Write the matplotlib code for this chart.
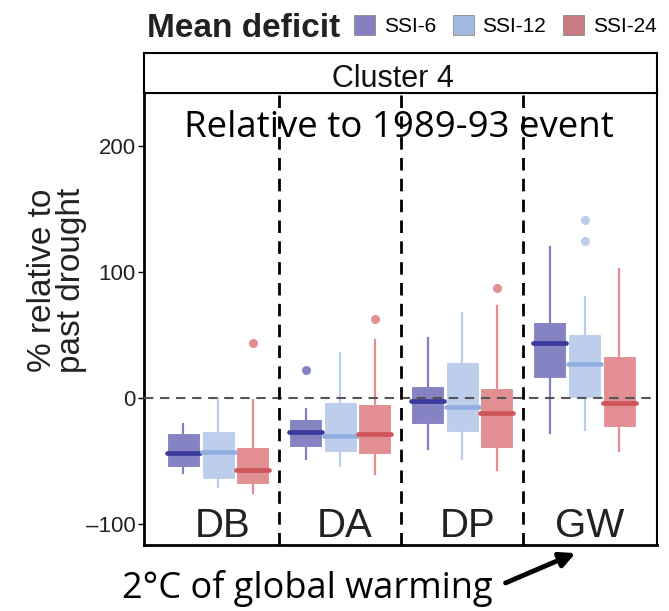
import matplotlib
matplotlib.use("Agg")
import matplotlib.pyplot as plt
from matplotlib.patches import Patch

categories = ["DB", "DA", "DP", "GW"]
series = ["SSI-6", "SSI-12", "SSI-24"]

# [whislo, q1, med, q3, whishi] per category
ssi6 = [[-59.5, -54.2, -43.1, -27.2, -20.4],
        [-48.2, -38.7, -27.0, -16.4, -8.2],
        [-40.5, -20.4, -2.1, 9.8, 47.6],
        [-27.8, 15.9, 43.6, 60.8, 120.3]]
ssi6_fliers = [[], [22.2], [], []]

ssi12 = [[-70.6, -63.8, -42.4, -26.0, 0.0],
         [-53.5, -42.4, -30.2, -2.9, 36.2],
         [-47.9, -26.7, -6.6, 28.6, 67.9],
         [-25.2, 0.5, 27.2, 51.0, 80.2]]
ssi12_fliers = [[], [], [], [125.1, 141.5]]

ssi24 = [[-75.4, -67.8, -56.9, -38.7, -1.3],
         [-60.1, -44.0, -28.1, -4.8, 46.0],
         [-56.9, -39.7, -11.4, 8.2, 73.3],
         [-42.1, -22.8, -3.5, 33.8, 102.6]]
ssi24_fliers = [[44.1], [63.2], [87.8], []]

yticks = [-100, 0, 100, 200]
ytick_labels = ["\u2013100", "0", "100", "200"]

box_colors = ["#8683c3", "#bdcdec", "#e28f94"]
med_colors = ["#3a3a9c", "#92aee0", "#cf575b"]
whisk_colors = ["#8280c2", "#b9cbee", "#e68c92"]
legend_colors = ["#847fbd", "#a3bbe2", "#c97b83"]

W, H = 669, 611
fig = plt.figure(figsize=(W / 100, H / 100), dpi=100)

ax_l, ax_r = 144 / W, 657 / W
ax_b, ax_t = 1 - 545 / H, 1 - 93 / H
ax = fig.add_axes([ax_l, ax_b, ax_r - ax_l, ax_t - ax_b])

offsets = [-0.283, 0.0, 0.283]
all_data = [(ssi6, ssi6_fliers), (ssi12, ssi12_fliers), (ssi24, ssi24_fliers)]

for s, (vals, fl) in enumerate(all_data):
    stats = []
    for i, v in enumerate(vals):
        stats.append(dict(whislo=v[0], q1=v[1], med=v[2], q3=v[3], whishi=v[4], fliers=fl[i]))
    pos = [i + 1 + offsets[s] for i in range(len(categories))]
    ax.bxp(stats, positions=pos, widths=0.27, patch_artist=True, showcaps=False,
           boxprops=dict(facecolor=box_colors[s], edgecolor="white", linewidth=0.8),
           medianprops=dict(color=med_colors[s], linewidth=3.4, solid_capstyle="round"),
           whiskerprops=dict(color=whisk_colors[s], linewidth=1.6),
           flierprops=dict(marker="o", markerfacecolor=box_colors[s], markeredgecolor="none",
                           markersize=6.5),
           manage_ticks=False, zorder=3)

ax.axhline(0, color="#555555", linestyle=(0, (4.5, 3.2)), linewidth=1.5, zorder=4)
for xv in [1.5, 2.5, 3.5]:
    ax.axvline(xv, color="black", linestyle=(0, (4.5, 3.0)), linewidth=2.0, zorder=4)

ax.set_xlim(0.394, 4.593)
ax.set_ylim(-116.4, 242.3)
ax.set_xticks([])
ax.set_yticks(yticks)
ax.set_yticklabels(ytick_labels, fontsize=16, color="#222222", family="Liberation Sans")
ax.tick_params(axis="y", length=4, width=1, pad=2)
for sp in ax.spines.values():
    sp.set_linewidth(1.5)
ax.spines["left"].set_linewidth(2)
ax.spines["bottom"].set_linewidth(2)

for i, c in enumerate(categories):
    ax.text(i + 1.04, -109.8, c, ha="center", va="baseline", fontsize=29,
            family="Liberation Sans", color="#222222", zorder=5)

ax.text(0.497, 0.9027, "Relative to 1989-93 event", transform=ax.transAxes, ha="center",
        va="baseline", fontsize=26.4, family="Open Sans", color="black", zorder=5)

ax.set_ylabel("% relative to\npast drought", fontsize=24, family="Liberation Sans",
              color="#222222", linespacing=0.9)
ax.yaxis.set_label_coords(-0.111, 0.586)

# strip
st_b, st_t = 1 - 93 / H, 1 - 52.7 / H
sax = fig.add_axes([ax_l, st_b, ax_r - ax_l, st_t - st_b])
sax.set_xticks([]); sax.set_yticks([])
for sp in sax.spines.values():
    sp.set_linewidth(1.5)
sax.text(393 / W, 1 - 86.7 / H, "Cluster 4", ha="center", va="baseline", fontsize=22,
         family="Liberation Sans", color="#111111", transform=fig.transFigure)

# legend
fig.text(147 / W, 1 - 37 / H, "Mean deficit", fontsize=24, fontweight="bold",
         family="Liberation Sans", color="#222222", va="baseline")
handles = [Patch(facecolor=legend_colors[k], edgecolor="#8a8a8a", linewidth=0.6) for k in range(3)]
fig.legend(handles, series, loc="center left", bbox_to_anchor=(354 / W, 1 - 25.5 / H), ncol=3,
           frameon=False, handlelength=1.0, handleheight=1.1, handletextpad=0.43,
           columnspacing=0.8, borderpad=0, borderaxespad=0,
           prop=dict(family="Liberation Sans", size=15))

# annotation
fig.text(122 / W, 1 - 598 / H, "2\u00b0C of global warming", fontsize=26, family="Open Sans",
         color="black", va="baseline")
ax.annotate("", xy=(578 / W, 1 - 552 / H), xytext=(503 / W, 1 - 584 / H),
            xycoords="figure fraction", textcoords="figure fraction",
            arrowprops=dict(arrowstyle="-|>,head_length=0.9,head_width=0.45", color="black",
                            lw=3.5), annotation_clip=False)

fig.savefig("out.png", dpi=100)
